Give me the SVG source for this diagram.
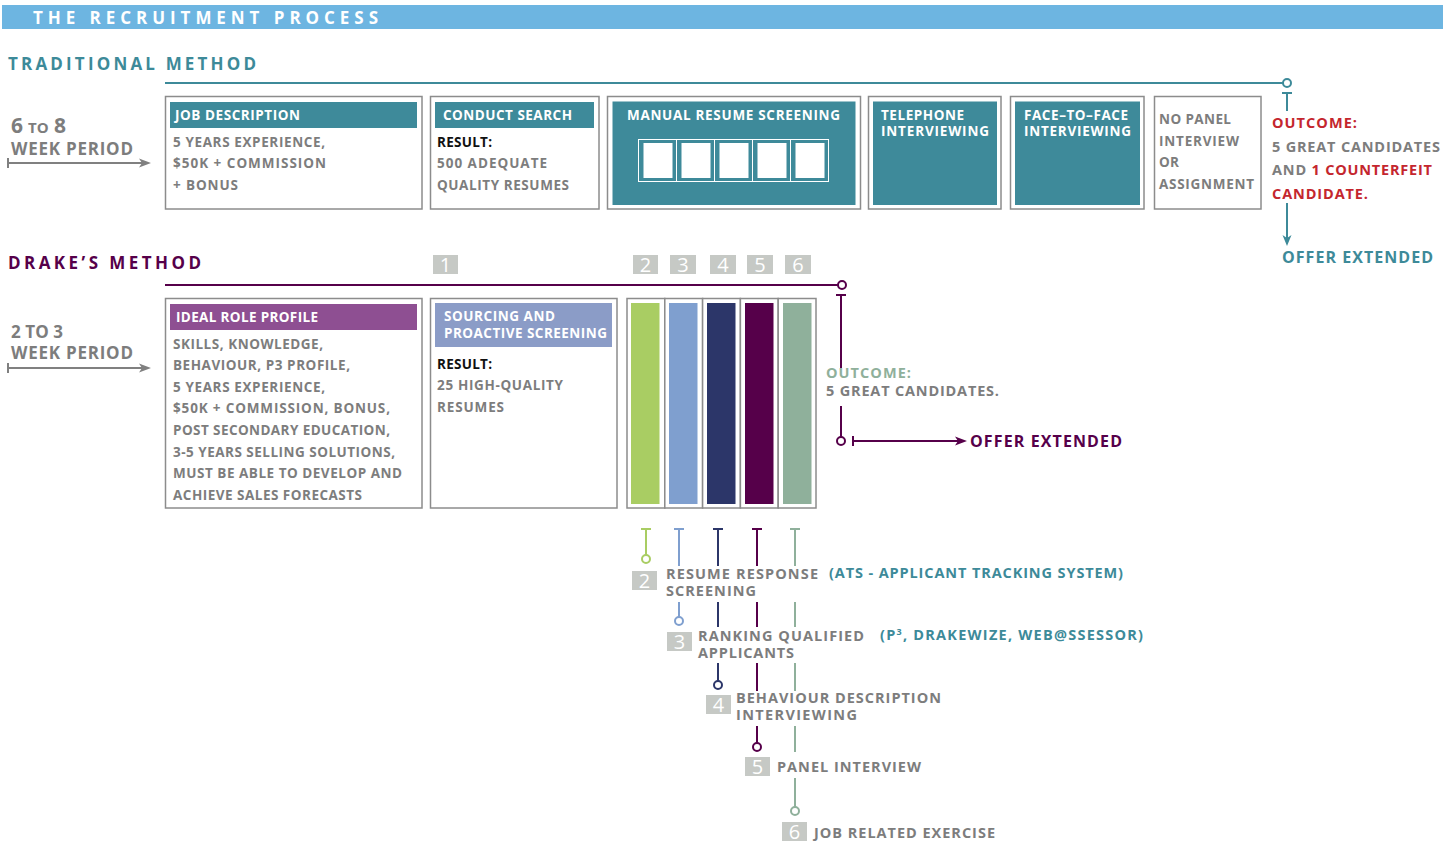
<svg xmlns="http://www.w3.org/2000/svg" width="1448" height="846" viewBox="0 0 1448 846">
<style>
text{font-family:"Open Sans","Liberation Sans",sans-serif;font-weight:700}
.w{fill:#fff}
.g{fill:#7d7d7d}
.k{fill:#111}
.tl{fill:#3d8a99}
.pu{fill:#56004a}
.rd{fill:#c4262e}
.sg{fill:#8fb09b}
.box{fill:#fff;stroke:#8c8c8c;stroke-width:1.5}
.teal{fill:#3e8a9a}
.nb{fill:#c6c9c5}
.num{font-weight:400;font-size:20px;fill:#fff;text-anchor:middle}
.s13{font-size:13.5px}
.s14{font-size:14.5px}
.s16{font-size:17px}
.ln{fill:none;stroke-width:2}
.dot{fill:#fff;stroke-width:2}
</style>

<rect x="2" y="5" width="1441" height="24" fill="#6db5e1"/>
<text x="33" y="24" class="w s16" textLength="345" lengthAdjust="spacing">THE RECRUITMENT PROCESS</text>

<!-- Traditional method -->
<g id="traditional-title">
<text x="8" y="70" class="tl s16" textLength="248" lengthAdjust="spacing">TRADITIONAL METHOD</text>
</g>
<g id="trad-period">
<text y="133" class="g"><tspan x="11" font-size="21">6</tspan><tspan x="28" font-size="15">TO</tspan><tspan x="54" font-size="21">8</tspan></text>
<text x="11" y="155" class="g s16" textLength="122" lengthAdjust="spacing">WEEK PERIOD</text>
</g>

<g id="job-description">
<rect x="165.5" y="96.5" width="256.5" height="112.5" class="box"/>
<rect x="170" y="102" width="247" height="26" class="teal"/>
<text x="175" y="120" class="w s13" textLength="125" lengthAdjust="spacing">JOB DESCRIPTION</text>
<text x="173" y="147" class="g s13" textLength="152" lengthAdjust="spacing">5 YEARS EXPERIENCE,</text>
<text x="173" y="168" class="g s13" textLength="153" lengthAdjust="spacing">$50K + COMMISSION</text>
<text x="173" y="190" class="g s13" textLength="65" lengthAdjust="spacing">+ BONUS</text>
</g>

<g id="conduct-search">
<rect x="430.5" y="96.5" width="168.5" height="112.5" class="box"/>
<rect x="435" y="102" width="159" height="26" class="teal"/>
<text x="443" y="120" class="w s13" textLength="129" lengthAdjust="spacing">CONDUCT SEARCH</text>
<text x="437" y="147" class="k s13" textLength="55" lengthAdjust="spacing">RESULT:</text>
<text x="437" y="168" class="g s13" textLength="110" lengthAdjust="spacing">500 ADEQUATE</text>
<text x="437" y="190" class="g s13" textLength="132" lengthAdjust="spacing">QUALITY RESUMES</text>
</g>

<g id="manual-screening">
<rect x="607.5" y="96.5" width="253" height="112.5" class="box"/>
<rect x="612.5" y="101.5" width="243" height="103.5" class="teal"/>
<text x="627" y="120" class="w s13" textLength="213" lengthAdjust="spacing">MANUAL RESUME SCREENING</text>
<g fill="none" stroke="#fff" stroke-width="1">
<rect x="638.5" y="139.5" width="38" height="42"/>
<rect x="676.5" y="139.5" width="38" height="42"/>
<rect x="714.5" y="139.5" width="38" height="42"/>
<rect x="752.5" y="139.5" width="38" height="42"/>
<rect x="790.5" y="139.5" width="38" height="42"/>
</g>
<g fill="#fff">
<rect x="643.5" y="143" width="29" height="35"/>
<rect x="681.5" y="143" width="29" height="35"/>
<rect x="719.5" y="143" width="29" height="35"/>
<rect x="757.5" y="143" width="29" height="35"/>
<rect x="795.5" y="143" width="29" height="35"/>
</g>
</g>

<g id="telephone">
<rect x="868.5" y="96.5" width="132.5" height="112.5" class="box"/>
<rect x="873" y="101.5" width="124" height="103.5" class="teal"/>
<text x="881" y="120" class="w s13" textLength="83" lengthAdjust="spacing">TELEPHONE</text>
<text x="881" y="136" class="w s13" textLength="108" lengthAdjust="spacing">INTERVIEWING</text>
</g>

<g id="face-to-face">
<rect x="1010.5" y="96.5" width="133.5" height="112.5" class="box"/>
<rect x="1015" y="101.5" width="125" height="103.5" class="teal"/>
<text x="1024" y="120" class="w s13" textLength="104" lengthAdjust="spacing">FACE–TO–FACE</text>
<text x="1024" y="136" class="w s13" textLength="107" lengthAdjust="spacing">INTERVIEWING</text>
</g>

<g id="no-panel">
<rect x="1154.5" y="96.5" width="106.5" height="112.5" class="box"/>
<text x="1159" y="124" class="g s13" textLength="72" lengthAdjust="spacing">NO PANEL</text>
<text x="1159" y="146" class="g s13" textLength="80" lengthAdjust="spacing">INTERVIEW</text>
<text x="1159" y="167" class="g s13" textLength="20" lengthAdjust="spacing">OR</text>
<text x="1159" y="189" class="g s13" textLength="95" lengthAdjust="spacing">ASSIGNMENT</text>
</g>

<g id="trad-outcome">
<text x="1272" y="128" class="rd s14" textLength="85" lengthAdjust="spacing">OUTCOME:</text>
<text x="1272" y="152" class="g s14" textLength="168" lengthAdjust="spacing">5 GREAT CANDIDATES</text>
<text x="1272" y="175" class="g s14" textLength="160" lengthAdjust="spacing">AND <tspan class="rd">1 COUNTERFEIT</tspan></text>
<text x="1272" y="199" class="rd s14" textLength="96" lengthAdjust="spacing">CANDIDATE.</text>
</g>
<g id="trad-offer">
<text x="1282" y="263" class="tl" font-size="16" textLength="151" lengthAdjust="spacing">OFFER EXTENDED</text>
</g>

<!-- Drake's method -->
<g id="drake-title">
<text x="8" y="269" class="pu s16" textLength="193" lengthAdjust="spacing">DRAKE’S METHOD</text>
</g>
<g id="drake-period">
<text x="11" y="338" class="g s16" textLength="52" lengthAdjust="spacing">2 TO 3</text>
<text x="11" y="359" class="g s16" textLength="122" lengthAdjust="spacing">WEEK PERIOD</text>
</g>

<g id="step-numbers">
<rect x="433" y="255" width="25" height="19" class="nb"/><text x="445.5" y="272" class="num">1</text>
<rect x="633" y="255" width="25" height="19" class="nb"/><text x="645.5" y="272" class="num">2</text>
<rect x="670" y="255" width="26" height="19" class="nb"/><text x="683" y="272" class="num">3</text>
<rect x="710" y="255" width="26" height="19" class="nb"/><text x="723" y="272" class="num">4</text>
<rect x="747" y="255" width="26" height="19" class="nb"/><text x="760" y="272" class="num">5</text>
<rect x="785" y="255" width="26" height="19" class="nb"/><text x="798" y="272" class="num">6</text>
</g>

<g id="ideal-role-profile">
<rect x="165.5" y="298.5" width="256.5" height="209.5" class="box"/>
<rect x="170" y="304" width="247" height="26" fill="#8e4f92"/>
<text x="176" y="322" class="w s13" textLength="142" lengthAdjust="spacing">IDEAL ROLE PROFILE</text>
<text x="173" y="349" class="g s13" textLength="150" lengthAdjust="spacing">SKILLS, KNOWLEDGE,</text>
<text x="173" y="370" class="g s13" textLength="177" lengthAdjust="spacing">BEHAVIOUR, P3 PROFILE,</text>
<text x="173" y="392" class="g s13" textLength="152" lengthAdjust="spacing">5 YEARS EXPERIENCE,</text>
<text x="173" y="413" class="g s13" textLength="217" lengthAdjust="spacing">$50K + COMMISSION, BONUS,</text>
<text x="173" y="435" class="g s13" textLength="217" lengthAdjust="spacing">POST SECONDARY EDUCATION,</text>
<text x="173" y="457" class="g s13" textLength="222" lengthAdjust="spacing">3-5 YEARS SELLING SOLUTIONS,</text>
<text x="173" y="478" class="g s13" textLength="229" lengthAdjust="spacing">MUST BE ABLE TO DEVELOP AND</text>
<text x="173" y="500" class="g s13" textLength="189" lengthAdjust="spacing">ACHIEVE SALES FORECASTS</text>
</g>

<g id="sourcing">
<rect x="430.5" y="298.5" width="186.5" height="209.5" class="box"/>
<rect x="435" y="303" width="177" height="44" fill="#8b9cc7"/>
<text x="444" y="321" class="w s13" textLength="111" lengthAdjust="spacing">SOURCING AND</text>
<text x="444" y="338" class="w s13" textLength="163" lengthAdjust="spacing">PROACTIVE SCREENING</text>
<text x="437" y="369" class="k s13" textLength="55" lengthAdjust="spacing">RESULT:</text>
<text x="437" y="390" class="g s13" textLength="126" lengthAdjust="spacing">25 HIGH-QUALITY</text>
<text x="437" y="412" class="g s13" textLength="67" lengthAdjust="spacing">RESUMES</text>
</g>

<g id="stages">
<rect x="627" y="298.5" width="37.8" height="209.5" class="box"/>
<rect x="664.8" y="298.5" width="37.8" height="209.5" class="box"/>
<rect x="702.6" y="298.5" width="37.8" height="209.5" class="box"/>
<rect x="740.4" y="298.5" width="37.8" height="209.5" class="box"/>
<rect x="778.2" y="298.5" width="37.8" height="209.5" class="box"/>
<rect x="631" y="303" width="28.5" height="201" fill="#a9cd63"/>
<rect x="669" y="303" width="28.5" height="201" fill="#7f9fcf"/>
<rect x="707" y="303" width="28.5" height="201" fill="#2c3669"/>
<rect x="745" y="303" width="28.5" height="201" fill="#56004a"/>
<rect x="783" y="303" width="28.5" height="201" fill="#8fb09b"/>
</g>

<g id="drake-outcome">
<text x="826" y="378" class="sg s14" textLength="85" lengthAdjust="spacing">OUTCOME:</text>
<text x="826" y="396" class="g s14" textLength="173" lengthAdjust="spacing">5 GREAT CANDIDATES.</text>
</g>
<g id="drake-offer">
<text x="970" y="447" class="pu" font-size="16" textLength="152" lengthAdjust="spacing">OFFER EXTENDED</text>
</g>

<g id="step-2">
<rect x="632" y="571" width="25" height="19" class="nb"/><text x="644.5" y="588" class="num">2</text>
<text x="666" y="579" class="g s14" textLength="152" lengthAdjust="spacing">RESUME RESPONSE</text>
<text x="666" y="596" class="g s14" textLength="90" lengthAdjust="spacing">SCREENING</text>
<text x="829" y="578" class="tl s14" textLength="294" lengthAdjust="spacing">(ATS - APPLICANT TRACKING SYSTEM)</text>
</g>
<g id="step-3">
<rect x="667" y="632" width="25" height="19" class="nb"/><text x="679.5" y="649" class="num">3</text>
<text x="698" y="641" class="g s14" textLength="166" lengthAdjust="spacing">RANKING QUALIFIED</text>
<text x="698" y="658" class="g s14" textLength="96" lengthAdjust="spacing">APPLICANTS</text>
<text x="880" y="640" class="tl s14" textLength="263" lengthAdjust="spacing">(P<tspan font-size="9" dy="-5">3</tspan><tspan dy="5">, DRAKEWIZE, WEB@SSESSOR)</tspan></text>
</g>
<g id="step-4">
<rect x="706" y="695" width="25" height="19" class="nb"/><text x="718.5" y="712" class="num">4</text>
<text x="736" y="703" class="g s14" textLength="205" lengthAdjust="spacing">BEHAVIOUR DESCRIPTION</text>
<text x="736" y="720" class="g s14" textLength="121" lengthAdjust="spacing">INTERVIEWING</text>
</g>
<g id="step-5">
<rect x="745" y="757" width="25" height="19" class="nb"/><text x="757.5" y="774" class="num">5</text>
<text x="777" y="772" class="g s14" textLength="144" lengthAdjust="spacing">PANEL INTERVIEW</text>
</g>
<g id="step-6">
<rect x="782" y="822" width="25" height="19" class="nb"/><text x="794.5" y="839" class="num">6</text>
<text x="814" y="838" class="g s14" textLength="181" lengthAdjust="spacing">JOB RELATED EXERCISE</text>
</g>

<g id="connectors">
<g stroke="#808080" stroke-width="2" fill="none">
<line x1="8" y1="163" x2="143" y2="163"/><line x1="8" y1="158" x2="8" y2="168"/>
<line x1="8" y1="368" x2="143" y2="368"/><line x1="8" y1="363" x2="8" y2="373"/>
</g>
<polygon points="139,158.5 151,163 139,167.5 142,163" fill="#808080"/>
<polygon points="139,363.5 151,368 139,372.5 142,368" fill="#808080"/>

<g stroke="#3d8a99" class="ln">
<line x1="165" y1="83" x2="1283" y2="83"/>
<line x1="1282" y1="93" x2="1292" y2="93"/>
<line x1="1287" y1="93" x2="1287" y2="111"/>
<line x1="1287" y1="203" x2="1287" y2="238"/>
</g>
<circle cx="1287" cy="83" r="4" class="dot" stroke="#3d8a99"/>
<polygon points="1282.5,235 1287,246 1291.5,235 1287,238" fill="#3d8a99"/>

<g stroke="#56004a" class="ln">
<line x1="165" y1="285" x2="838" y2="285"/>
<line x1="836" y1="295" x2="846" y2="295"/>
<line x1="841" y1="295" x2="841" y2="368"/>
<line x1="841" y1="406" x2="841" y2="437"/>
<line x1="853" y1="436" x2="853" y2="446"/>
<line x1="853" y1="441" x2="960" y2="441"/>
</g>
<circle cx="842" cy="285" r="4" class="dot" stroke="#56004a"/>
<circle cx="841" cy="441" r="4" class="dot" stroke="#56004a"/>
<polygon points="955,436.5 967,441 955,445.5 958,441" fill="#56004a"/>

<g stroke="#a9cd63" class="ln">
<line x1="641" y1="529" x2="651" y2="529"/>
<line x1="646" y1="529" x2="646" y2="555"/>
</g>
<circle cx="646" cy="559" r="4" class="dot" stroke="#a9cd63"/>

<g stroke="#7f9fcf" class="ln">
<line x1="674" y1="529" x2="684" y2="529"/>
<line x1="679" y1="529" x2="679" y2="566"/>
<line x1="679" y1="602" x2="679" y2="617"/>
</g>
<circle cx="679" cy="621" r="4" class="dot" stroke="#7f9fcf"/>

<g stroke="#2c3669" class="ln">
<line x1="713" y1="529" x2="723" y2="529"/>
<line x1="718" y1="529" x2="718" y2="566"/>
<line x1="718" y1="602" x2="718" y2="627"/>
<line x1="718" y1="663" x2="718" y2="681"/>
</g>
<circle cx="718" cy="685" r="4" class="dot" stroke="#2c3669"/>

<g stroke="#56004a" class="ln">
<line x1="752" y1="529" x2="762" y2="529"/>
<line x1="757" y1="529" x2="757" y2="566"/>
<line x1="757" y1="602" x2="757" y2="627"/>
<line x1="757" y1="663" x2="757" y2="691"/>
<line x1="757" y1="726" x2="757" y2="743"/>
</g>
<circle cx="757" cy="747" r="4" class="dot" stroke="#56004a"/>

<g stroke="#8fb09b" class="ln">
<line x1="790" y1="529" x2="800" y2="529"/>
<line x1="795" y1="529" x2="795" y2="566"/>
<line x1="795" y1="602" x2="795" y2="627"/>
<line x1="795" y1="663" x2="795" y2="691"/>
<line x1="795" y1="726" x2="795" y2="752"/>
<line x1="795" y1="778" x2="795" y2="807"/>
</g>
<circle cx="795" cy="811" r="4" class="dot" stroke="#8fb09b"/>
</g>
</svg>
